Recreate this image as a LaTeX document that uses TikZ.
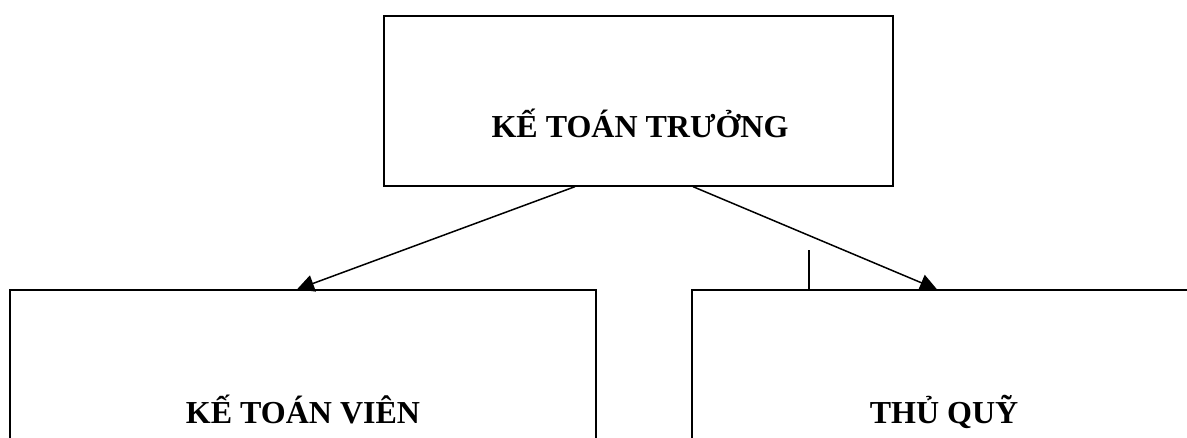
\documentclass[tikz,border=0pt]{standalone}
\usepackage{fontspec}
\setmainfont{Liberation Serif}
\usetikzlibrary{arrows.meta}
\begin{document}
\begin{tikzpicture}[x=1pt,y=-1pt,line width=1.3pt]
    \tikzstyle{unit}=[draw,inner sep=0pt]
    \tikzstyle{title}=[anchor=base,font=\fontsize{32}{38}\selectfont\bfseries]
    \tikzstyle{link}=[line width=1.5pt,-{Triangle[length=17pt,width=17pt]}]
    \clip (0,0) rectangle (1187,437);

    \node[unit,minimum width=509pt,minimum height=170pt] (truong) at (638.5,101) {};
      \node[title] (truongtxt) at (640,137) {KẾ TOÁN TRƯỞNG};
    \node[unit,minimum width=586pt,minimum height=300pt] (vien) at (303,440) {};
      \node[title] (vientxt) at (303,423) {KẾ TOÁN VIÊN};
    \node[unit,minimum width=508pt,minimum height=300pt] (quy) at (946,440) {};
      \node[title] (quytxt) at (944,423) {THỦ QUỸ};

    \draw[link] ([xshift=-63.5pt]truong.south) -- ([xshift=-6pt]vien.north);
    \draw[link] ([xshift=54.5pt]truong.south) -- ([xshift=-9pt]quy.north);

    \coordinate (tick) at ([xshift=-137pt,yshift=39pt]quy.north);
    \draw (tick) -- (tick |- quy.north);
\end{tikzpicture}
\end{document}
